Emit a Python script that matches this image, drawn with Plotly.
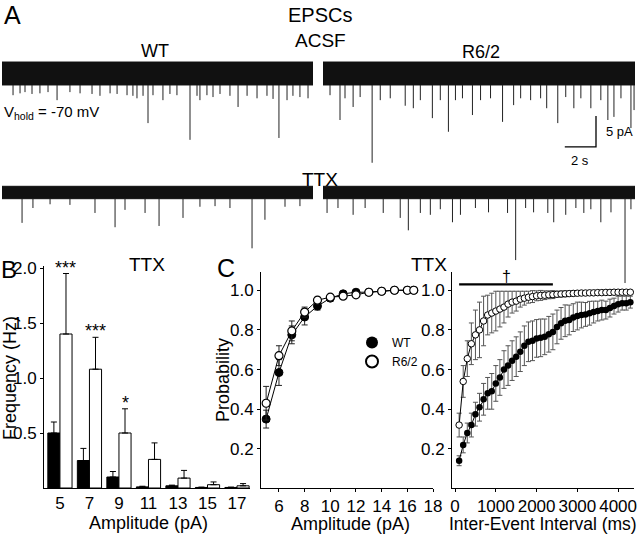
import plotly.graph_objects as go

W, H = 640, 535
FONT = "Liberation Sans, Arial, Helvetica, sans-serif"

# ---------------- Panel A: example EPSC traces (event times s, amplitudes pA)
trace_duration_s = 20.0
noise_acsf_pA = 1.85
noise_ttx_pA = 1.0
scale_bar_s = 2
scale_bar_pA = 5

wt_acsf_t = [0.71, 1.16, 1.48, 1.93, 2.44, 2.96, 3.54, 4.37, 5.02, 5.79, 6.30, 6.95, 7.40, 8.04,
             8.42, 8.68, 9.07, 9.39, 9.71, 10.35, 10.80, 11.25, 12.09, 12.54, 12.73, 13.18, 13.57,
             14.02, 14.66, 15.18, 15.76, 16.40, 17.04, 17.43, 17.81, 18.33, 18.71, 19.16, 19.68]
wt_acsf_amp = [3.5, 3.2, 3.0, 3.3, 3.2, 3.0, 4.3, 3.0, 3.2, 3.3, 3.6, 3.2, 3.3, 3.5,
               3.6, 4.0, 3.6, 8.0, 3.5, 4.3, 3.3, 3.5, 10.7, 3.6, 4.3, 3.5, 3.8,
               3.3, 3.6, 5.4, 3.6, 4.0, 3.6, 4.1, 10.4, 4.3, 3.6, 3.8, 4.0]

r62_acsf_t = [0.45, 1.09, 1.41, 1.93, 2.38, 3.15, 3.67, 4.31, 5.27, 5.79, 6.24, 7.01, 7.52, 8.04,
              8.49, 8.94, 9.58, 10.10, 10.74, 11.51, 12.22, 12.67, 13.31, 13.95, 14.34, 15.05,
              15.56, 16.08, 16.53, 17.17, 17.81, 18.26, 18.65, 19.10, 19.74, 19.94]
r62_acsf_amp = [3.5, 7.5, 4.0, 5.4, 3.8, 14.4, 4.3, 4.0, 5.2, 5.6, 4.3, 7.2, 4.3, 9.4,
                4.3, 4.0, 6.7, 4.3, 4.0, 7.8, 5.1, 4.0, 4.3, 4.0, 5.6, 8.0,
                3.8, 5.6, 4.0, 5.6, 4.3, 7.5, 7.0, 4.0, 8.8, 5.9]

wt_ttx_t = [1.29, 1.99, 3.09, 4.37, 5.98, 7.27, 7.91, 9.20, 10.10, 11.64, 12.73, 13.70, 14.66,
            16.08, 16.91, 18.20, 19.16]
wt_ttx_amp = [4.9, 2.5, 1.9, 2.0, 3.3, 5.6, 2.8, 3.3, 5.4, 4.1, 2.3, 2.2, 2.5,
              9.0, 4.4, 2.3, 2.2]

r62_ttx_t = [0.26, 0.96, 1.93, 2.70, 3.86, 4.95, 5.47, 6.24, 6.88, 7.52, 8.30, 8.81, 9.77, 10.61,
             11.83, 12.35, 12.99, 13.50, 14.41, 14.79, 15.56, 16.21, 16.72, 17.17, 17.81, 18.46,
             19.36, 19.74]
r62_ttx_amp = [3.3, 2.5, 3.6, 2.5, 3.3, 4.1, 6.1, 3.3, 3.6, 2.7, 4.8, 3.6, 2.5, 3.2,
               3.3, 10.9, 2.5, 3.2, 3.3, 4.8, 3.6, 2.5, 3.3, 2.7, 4.8, 3.2,
               14.6, 2.7]

# ---------------- Panel B: amplitude histogram (frequency, Hz)
amp_bins = [5, 7, 9, 11, 13, 15, 17]
wt_freq = [0.50, 0.25, 0.10, 0.01, 0.02, 0.005, 0.005]
wt_freq_err = [0.10, 0.11, 0.05, 0.006, 0.006, 0.003, 0.003]
r62_freq = [1.40, 1.08, 0.50, 0.26, 0.09, 0.03, 0.02]
r62_freq_err = [0.55, 0.29, 0.22, 0.15, 0.07, 0.025, 0.02]
sig_marks = ["***", "***", "*", "", "", "", ""]

# ---------------- Panel C left: cumulative amplitude
cum_amp_x = [5, 6, 7, 8, 9, 10, 11, 12, 13, 14, 15, 16, 16.5]
wt_cum_amp = [0.35, 0.585, 0.775, 0.865, 0.92, 0.96, 0.982, 0.99, 0.99, 0.995, 1.0, 1.0, 1.0]
wt_cum_amp_err = [0.045, 0.065, 0.045, 0.04, 0.02, 0.015, 0.01, 0.005, 0.005, 0.003, 0.002, 0.002, 0.002]
r62_cum_amp = [0.43, 0.67, 0.795, 0.89, 0.95, 0.965, 0.97, 0.977, 0.99, 0.995, 1.0, 1.0, 1.0]
r62_cum_amp_err = [0.085, 0.05, 0.05, 0.025, 0.015, 0.01, 0.01, 0.008, 0.005, 0.003, 0.002, 0.002, 0.002]

# ---------------- Panel C right: cumulative inter-event interval
iei_ms = [100, 200, 300, 400, 500, 600, 700, 800, 900, 1000, 1100, 1200, 1300, 1400, 1500,
          1600, 1700, 1800, 1900, 2000, 2100, 2200, 2300, 2400, 2500, 2600, 2700, 2800, 2900,
          3000, 3100, 3200, 3300, 3400, 3500, 3600, 3700, 3800, 3900, 4000, 4100, 4200, 4300]
wt_cum_iei = [0.14, 0.22, 0.28, 0.32, 0.375, 0.41, 0.45, 0.48, 0.49, 0.53, 0.56, 0.60, 0.62,
              0.645, 0.665, 0.69, 0.72, 0.74, 0.745, 0.757, 0.76, 0.765, 0.778, 0.79, 0.815,
              0.833, 0.846, 0.85, 0.862, 0.87, 0.875, 0.878, 0.884, 0.89, 0.895, 0.90, 0.90,
              0.91, 0.92, 0.93, 0.935, 0.935, 0.94]
wt_cum_iei_err = [0.025, 0.04, 0.05, 0.06, 0.06, 0.07, 0.08, 0.08, 0.09, 0.09, 0.09, 0.095, 0.1,
                  0.1, 0.1, 0.1, 0.1, 0.1, 0.1, 0.095, 0.095, 0.09, 0.09, 0.09, 0.085, 0.08,
                  0.08, 0.075, 0.07, 0.07, 0.065, 0.06, 0.06, 0.055, 0.05, 0.05, 0.045, 0.045,
                  0.04, 0.04, 0.035, 0.035, 0.03]
r62_cum_iei = [0.32, 0.54, 0.655, 0.73, 0.775, 0.80, 0.845, 0.875, 0.885, 0.895, 0.905, 0.915,
               0.93, 0.94, 0.945, 0.955, 0.96, 0.965, 0.968, 0.972, 0.974, 0.975, 0.977, 0.978,
               0.98, 0.981, 0.982, 0.983, 0.984, 0.985, 0.986, 0.986, 0.987, 0.987, 0.988,
               0.988, 0.989, 0.989, 0.99, 0.99, 0.99, 0.99, 0.99]
r62_cum_iei_err = [0.06, 0.08, 0.09, 0.105, 0.125, 0.14, 0.125, 0.10, 0.10, 0.10, 0.09, 0.08,
                   0.065, 0.055, 0.05, 0.04, 0.035, 0.03, 0.03, 0.025, 0.025, 0.022, 0.02,
                   0.02, 0.015, 0.015, 0.015, 0.012, 0.012, 0.01, 0.01, 0.01, 0.01, 0.01,
                   0.01, 0.01, 0.01, 0.01, 0.008, 0.008, 0.008, 0.008, 0.008]
sig_window_ms = [100, 2400]


# ---------------- helpers (pixel layout -> paper)
def px_x(px):
    return px / W


def px_y(py):
    return 1 - py / H


def xdom(a, b):
    return [px_x(a), px_x(b)]


def ydom(top, bot):
    return [px_y(bot), px_y(top)]


def yrange_from(top_px, bot_px, zero_px, px_per_unit):
    return [-(bot_px - zero_px) / px_per_unit, (zero_px - top_px) / px_per_unit]


fig = go.Figure()

# ---- Panel A traces
PX_PER_PA = 6.2
acsf_dom = (55, 170, 73.5)
ttx_dom = (175, 300, 192.5)
trace_sets = [
    (wt_acsf_t, wt_acsf_amp, noise_acsf_pA, "x", "y"),
    (r62_acsf_t, r62_acsf_amp, noise_acsf_pA, "x2", "y2"),
    (wt_ttx_t, wt_ttx_amp, noise_ttx_pA, "x3", "y3"),
    (r62_ttx_t, r62_ttx_amp, noise_ttx_pA, "x4", "y4"),
]
for ts, amps, noise, xa, ya in trace_sets:
    fig.add_trace(go.Scatter(
        x=[0, trace_duration_s, trace_duration_s, 0, 0],
        y=[noise, noise, -noise, -noise, noise],
        fill="toself", fillcolor="#111", line=dict(color="#111", width=1),
        mode="lines", xaxis=xa, yaxis=ya, showlegend=False, hoverinfo="skip"))
    xs, ys = [], []
    for t, a in zip(ts, amps):
        xs += [t, t, None]
        ys += [-noise, -a, None]
    fig.add_trace(go.Scatter(
        x=xs, y=ys, mode="lines", line=dict(color="#222", width=1),
        xaxis=xa, yaxis=ya, showlegend=False, hoverinfo="skip"))

# scale bar on R6/2 ACSF trace
sb_x_end = 17.5
sb_y_bot = -11.85
fig.add_trace(go.Scatter(
    x=[sb_x_end - scale_bar_s, sb_x_end, sb_x_end],
    y=[sb_y_bot, sb_y_bot, sb_y_bot + scale_bar_pA],
    mode="lines", line=dict(color="black", width=1.3),
    xaxis="x2", yaxis="y2", showlegend=False, hoverinfo="skip"))

# ---- Panel B bars
BW = 0.82
fig.add_trace(go.Bar(
    x=amp_bins, y=wt_freq, width=BW, offset=-BW,
    marker=dict(color="black", line=dict(color="black", width=1)),
    error_y=dict(type="data", array=wt_freq_err, arrayminus=[0] * len(amp_bins),
                 symmetric=False, color="black", thickness=1, width=3),
    xaxis="x5", yaxis="y5", showlegend=False))
fig.add_trace(go.Bar(
    x=amp_bins, y=r62_freq, width=BW, offset=0,
    marker=dict(color="white", line=dict(color="black", width=1)),
    error_y=dict(type="data", array=r62_freq_err, arrayminus=[0] * len(amp_bins),
                 symmetric=False, color="black", thickness=1, width=3),
    xaxis="x5", yaxis="y5", showlegend=False))

# ---- Panel C left
fig.add_trace(go.Scatter(
    x=cum_amp_x, y=wt_cum_amp, mode="lines+markers",
    line=dict(color="black", width=1),
    marker=dict(symbol="circle", size=8, color="black", line=dict(color="black", width=1)),
    error_y=dict(type="data", array=wt_cum_amp_err, color="#222", thickness=1, width=3),
    xaxis="x6", yaxis="y6", showlegend=False))
fig.add_trace(go.Scatter(
    x=cum_amp_x, y=r62_cum_amp, mode="lines+markers",
    line=dict(color="black", width=1),
    marker=dict(symbol="circle", size=8, color="white", line=dict(color="black", width=1.2)),
    error_y=dict(type="data", array=r62_cum_amp_err, color="#222", thickness=1, width=3),
    xaxis="x6", yaxis="y6", showlegend=False))
# legend keys
fig.add_trace(go.Scatter(x=[None], y=[None], mode="markers", name="WT",
                         marker=dict(symbol="circle", size=10, color="black"),
                         xaxis="x6", yaxis="y6"))
fig.add_trace(go.Scatter(x=[None], y=[None], mode="markers", name="R6/2",
                         marker=dict(symbol="circle", size=10, color="white",
                                     line=dict(color="black", width=1.2)),
                         xaxis="x6", yaxis="y6"))

# ---- Panel C right
fig.add_trace(go.Scatter(
    x=iei_ms, y=wt_cum_iei, mode="lines+markers",
    line=dict(color="black", width=1),
    marker=dict(symbol="circle", size=6.5, color="black"),
    error_y=dict(type="data", array=wt_cum_iei_err, color="#555", thickness=1, width=2.5),
    xaxis="x7", yaxis="y7", showlegend=False))
fig.add_trace(go.Scatter(
    x=iei_ms, y=r62_cum_iei, mode="lines+markers",
    line=dict(color="black", width=1),
    marker=dict(symbol="circle", size=6.5, color="white", line=dict(color="black", width=1)),
    error_y=dict(type="data", array=r62_cum_iei_err, color="#555", thickness=1, width=2.5),
    xaxis="x7", yaxis="y7", showlegend=False))

# ---------------- layout
hidden = dict(visible=False, showgrid=False, zeroline=False, fixedrange=True)
TICKF = dict(family=FONT, size=17, color="black")


def shown(**kw):
    base = dict(showgrid=False, zeroline=False, showline=True, linecolor="black", linewidth=1,
                ticks="outside", ticklen=3, tickwidth=1, tickcolor="black",
                tickfont=TICKF, automargin=False)
    base.update(kw)
    return base


acsf_range = yrange_from(acsf_dom[0], acsf_dom[1], acsf_dom[2], PX_PER_PA)
ttx_range = yrange_from(ttx_dom[0], ttx_dom[1], ttx_dom[2], PX_PER_PA)

P_ZERO, P_SCALE = 488.5, 198.25
c_yrange = yrange_from(272, 488, P_ZERO, P_SCALE)

layout = dict(
    width=W, height=H, margin=dict(l=0, r=0, t=0, b=0),
    paper_bgcolor="white", plot_bgcolor="rgba(0,0,0,0)",
    font=dict(family=FONT, color="black"),
    barmode="overlay",
    xaxis=dict(hidden, domain=xdom(2, 313), range=[0, trace_duration_s]),
    yaxis=dict(hidden, domain=ydom(acsf_dom[0], acsf_dom[1]), range=acsf_range),
    xaxis2=dict(hidden, domain=xdom(323, 635), range=[0, trace_duration_s], anchor="y2"),
    yaxis2=dict(hidden, domain=ydom(acsf_dom[0], acsf_dom[1]), range=acsf_range, anchor="x2"),
    xaxis3=dict(hidden, domain=xdom(2, 313), range=[0, trace_duration_s], anchor="y3"),
    yaxis3=dict(hidden, domain=ydom(ttx_dom[0], ttx_dom[1]), range=ttx_range, anchor="x3"),
    xaxis4=dict(hidden, domain=xdom(323, 635), range=[0, trace_duration_s], anchor="y4"),
    yaxis4=dict(hidden, domain=ydom(ttx_dom[0], ttx_dom[1]), range=ttx_range, anchor="x4"),
    xaxis5=shown(domain=xdom(44, 250), range=[3.92, 17.88], anchor="y5",
                 tickvals=amp_bins, ticks=""),
    yaxis5=shown(domain=ydom(266, 488), range=yrange_from(266, 488, 488, 110), anchor="x5",
                 tickvals=[0.5, 1.0, 1.5, 2.0], ticktext=["0.5", "1.0", "1.5", "2.0"]),
    xaxis6=shown(domain=xdom(261, 433), range=[4.6, 18], anchor="y6",
                 tickvals=[6, 8, 10, 12, 14, 16, 18]),
    yaxis6=shown(domain=ydom(272, 488), range=c_yrange, anchor="x6",
                 tickvals=[0.2, 0.4, 0.6, 0.8, 1.0], ticktext=["0.2", "0.4", "0.6", "0.8", "1.0"]),
    xaxis7=shown(domain=xdom(452, 634), range=[-75, 4390], anchor="y7",
                 tickvals=[0, 1000, 2000, 3000, 4000]),
    yaxis7=shown(domain=ydom(272, 488), range=c_yrange, anchor="x7",
                 tickvals=[0.2, 0.4, 0.6, 0.8, 1.0], ticktext=["0.2", "0.4", "0.6", "0.8", "1.0"]),
    legend=dict(x=px_x(352), y=px_y(328), xanchor="left", yanchor="top",
                bgcolor="rgba(0,0,0,0)", font=dict(family=FONT, size=12),
                itemsizing="constant", tracegroupgap=0),
)
fig.update_layout(**layout)


def pann(text, x, y, size, xanchor="center", yanchor="middle", angle=0):
    return dict(text=text, x=px_x(x), y=px_y(y), xref="paper", yref="paper",
                showarrow=False, xanchor=xanchor, yanchor=yanchor, textangle=angle,
                font=dict(family=FONT, size=size, color="black"))


annotations = [
    pann("A", 2, 15, 25, xanchor="left"),
    pann("EPSCs", 320, 15, 20),
    pann("ACSF", 320, 40, 19),
    pann("WT", 155, 51, 18),
    pann("R6/2", 481, 52, 18),
    pann("TTX", 320, 179, 19),
    pann("V<sub>hold</sub> = -70 mV", 2, 112, 15, xanchor="left"),
    pann("B", -1, 270, 24, xanchor="left"),
    pann("TTX", 147, 265, 19),
    pann("Frequency (Hz)", 10, 378, 18, angle=-90),
    pann("Amplitude (pA)", 148, 523, 18),
    pann("C", 226, 268, 25),
    pann("TTX", 429, 265, 19),
    pann("Probability", 223, 380, 18, angle=-90),
    pann("Amplitude (pA)", 350, 524, 18),
    pann("Inter-Event Interval (ms)", 543, 524, 17.5),
]
# scale bar labels
annotations.append(dict(text=f"{scale_bar_pA} pA", x=sb_x_end + 0.5, y=sb_y_bot + scale_bar_pA / 2,
                        xref="x2", yref="y2", showarrow=False, xanchor="left", yanchor="middle",
                        font=dict(family=FONT, size=13, color="black")))
annotations.append(dict(text=f"{scale_bar_s} s", x=sb_x_end - scale_bar_s / 2, y=sb_y_bot - 0.6,
                        xref="x2", yref="y2", showarrow=False, xanchor="center", yanchor="top",
                        font=dict(family=FONT, size=13, color="black")))
# significance asterisks
for b, v, e, s in zip(amp_bins, r62_freq, r62_freq_err, sig_marks):
    if s:
        annotations.append(dict(text=s, x=b + BW / 2, y=v + e, xref="x5", yref="y5",
                                showarrow=False, xanchor="center", yanchor="bottom", yshift=-6,
                                font=dict(family=FONT, size=18, color="black")))
# dagger for IEI
annotations.append(dict(text="†", x=sum(sig_window_ms) / 2, y=1.03, xref="x7", yref="y7",
                        showarrow=False, xanchor="center", yanchor="bottom", yshift=-3,
                        font=dict(family=FONT, size=16, color="black")))
fig.update_layout(annotations=annotations)
fig.add_shape(type="line", x0=sig_window_ms[0], x1=sig_window_ms[1], y0=1.03, y1=1.03,
              xref="x7", yref="y7", line=dict(color="black", width=2.2))

fig.write_html("out.html", config={"displayModeBar": False},
               post_script="document.body.style.margin='0';document.body.style.overflow='hidden';")
